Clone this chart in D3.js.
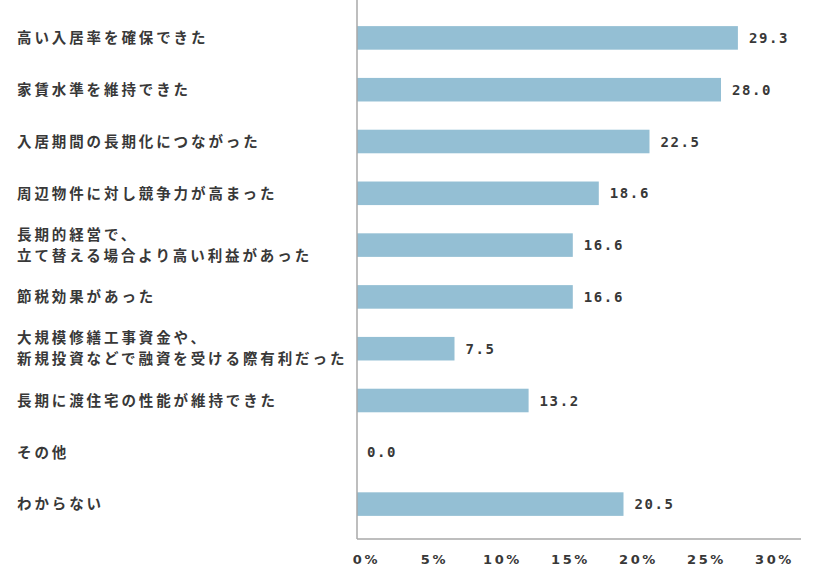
<!DOCTYPE html>
<html>
<head>
<meta charset="utf-8">
<script src="https://cdn.jsdelivr.net/npm/d3@7"></script>
<style>
  html, body { margin: 0; padding: 0; background: #ffffff; }
  svg { display: block; }
</style>
</head>
<body>
<svg id="chart" width="834" height="588"></svg>
<script>
const categories = [
  "高い入居率を確保できた",
  "家賃水準を維持できた",
  "入居期間の長期化につながった",
  "周辺物件に対し競争力が高まった",
  "長期的経営で、\n立て替える場合より高い利益があった",
  "節税効果があった",
  "大規模修繕工事資金や、\n新規投資などで融資を受ける際有利だった",
  "長期に渡住宅の性能が維持できた",
  "その他",
  "わからない"
];
const values = [29.3, 28.0, 22.5, 18.6, 16.6, 16.6, 7.5, 13.2, 0.0, 20.5];
const tickValues = [0, 5, 10, 15, 20, 25, 30];
const tickLabels = ["0%", "5%", "10%", "15%", "20%", "25%", "30%"];

const data = categories.map((c, i) => ({ cat: c, val: values[i] }));

const svg = d3.select("#chart");
const axisX = 357;
const barColor = "#94bfd4";
const textColor = "#383838";
const axisColor = "#a8a8a8";

const x = d3.scaleLinear().domain([0, 30]).range([axisX, axisX + 390]);
const tickScale = d3.scaleLinear().domain([0, 30]).range([366, 774]);
const y = d3.scaleBand().domain(categories).range([12, 530]).paddingInner(0.545).paddingOuter(0.2725);

// bars
svg.append("g").selectAll("rect").data(data).join("rect")
  .attr("x", x(0))
  .attr("y", d => y(d.cat))
  .attr("width", d => x(d.val) - x(0))
  .attr("height", y.bandwidth())
  .attr("fill", barColor);

// value labels
svg.append("g").selectAll("text").data(data).join("text")
  .attr("x", d => x(d.val) + (d.val === 0 ? 10 : 11))
  .attr("y", d => y(d.cat) + y.bandwidth() / 2)
  .attr("dy", "0.36em")
  .attr("fill", textColor)
  .style("font-family", "'DejaVu Sans Mono', 'Liberation Mono', monospace")
  .style("font-weight", "bold")
  .style("font-size", "14px")
  .style("letter-spacing", "1.6px")
  .text(d => d3.format(".1f")(d.val));

// category labels
const lab = svg.append("g").selectAll("text").data(data).join("text")
  .attr("x", 17)
  .attr("y", d => y(d.cat) + y.bandwidth() / 2)
  .attr("fill", textColor)
  .style("font-family", "'Noto Sans CJK JP', 'Noto Sans', sans-serif")
  .style("font-weight", "bold")
  .style("font-size", "14.5px")
  .style("letter-spacing", "2.9px");
lab.each(function(d) {
  const lines = d.cat.split("\n");
  const t = d3.select(this);
  const lh = 21;
  const off = -(lines.length - 1) * lh / 2;
  lines.forEach((ln, i) => {
    t.append("tspan")
      .attr("x", 17)
      .attr("dy", i === 0 ? (off / 14.5 + 0.36) + "em" : lh + "px")
      .text(ln);
  });
});

// axis lines
svg.append("line")
  .attr("x1", axisX).attr("x2", axisX)
  .attr("y1", 0).attr("y2", 539)
  .attr("stroke", axisColor).attr("stroke-width", 1.5);
svg.append("line")
  .attr("x1", axisX).attr("x2", 801)
  .attr("y1", 539).attr("y2", 539)
  .attr("stroke", axisColor).attr("stroke-width", 1.5);

// tick labels
const axis = d3.axisBottom(tickScale)
  .tickValues(tickValues)
  .tickSize(0)
  .tickFormat((d, i) => tickLabels[i]);
const gAxis = svg.append("g").attr("transform", "translate(0,552)").call(axis);
gAxis.select(".domain").remove();
gAxis.selectAll("text")
  .attr("fill", textColor)
  .attr("dy", "0.71em")
  .style("font-family", "'DejaVu Sans', sans-serif")
  .style("font-weight", "bold")
  .style("font-size", "13px")
  .style("letter-spacing", "2.6px");
</script>
</body>
</html>
